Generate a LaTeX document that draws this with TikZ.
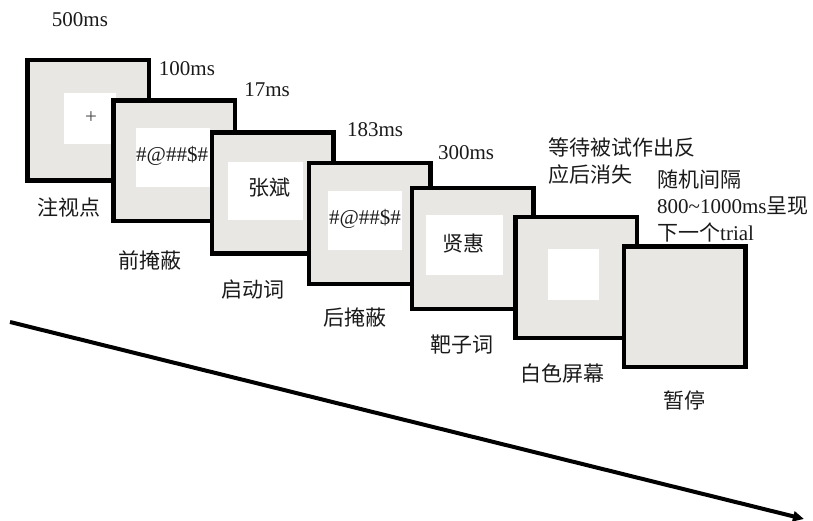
\documentclass[tikz,border=0pt]{standalone}
\usepackage{fontspec}
\setmainfont{Liberation Serif}
\newfontfamily\cjk{Noto Sans CJK SC}
\usetikzlibrary{arrows.meta,shadows}
\definecolor{scr}{HTML}{E8E7E4}
\definecolor{ink}{HTML}{1A1A1A}
\tikzset{
 screen/.style={draw=black, line width=4.5pt, fill=scr, minimum width=121.5pt, minimum height=120.5pt, inner sep=0pt,
   drop shadow={shadow xshift=1.5pt,shadow yshift=-1.5pt,opacity=0.35}},
 win/.style={fill=white, inner sep=0pt},
 lbl/.style={font=\fontsize{21pt}{25pt}\selectfont, text=ink, inner sep=0pt},
 cn/.style={font=\fontsize{21pt}{25pt}\selectfont\cjk, text=ink, inner sep=0pt},
}
\begin{document}
\begin{tikzpicture}[x=1pt,y=-1pt]
\useasboundingbox (0,0) rectangle (813,521);
% screen 1
\node[screen] (s1) at (88,120.5) {};
\node[win, minimum width=52pt, minimum height=51pt] (w1) at (90,118.5) {};
\node[lbl, text=ink!80] (plus) at (91,118) {+};
% screen 2
\node[screen] (s2) at (174,161) {};
\node[win, minimum width=74pt, minimum height=59pt] (w2) at (173,157.5) {};
\node[lbl, anchor=west] (t2) at (136,156) {\#@\#\#\$\#};
% screen 3
\node[screen] (s3) at (272.5,193) {};
\node[win, minimum width=75pt, minimum height=58pt] (w3) at (265.5,191) {};
\node[cn] (t3) at (269,188) {张斌};
% screen 4
\node[screen] (s4) at (369.5,223.5) {};
\node[win, minimum width=74pt, minimum height=59pt] (w4) at (365,220.5) {};
\node[lbl] (t4) at (365,219) {\#@\#\#\$\#};
% screen 5
\node[screen] (s5) at (472.5,248.5) {};
\node[win, minimum width=77pt, minimum height=60pt] (w5) at (464.5,245) {};
\node[cn] (t5) at (463,243) {贤惠};
% screen 6
\node[screen] (s6) at (576,277.5) {};
\node[win, minimum width=51pt, minimum height=51pt] (w6) at (573.5,274.5) {};
% screen 7
\node[screen] (s7) at (684.5,306.5) {};
% durations
\node[lbl] (d1) at (80,20) {500ms};
\node[lbl] (d2) at (187,69) {100ms};
\node[lbl] (d3) at (267,90) {17ms};
\node[lbl] (d4) at (375,130) {183ms};
\node[lbl] (d5) at (466,153) {300ms};
\node[cn, anchor=west] (r1) at (548,148) {等待被试作出反};
\node[cn, anchor=west] (r2) at (548,175) {应后消失};
\node[cn, anchor=west] (q1) at (657,180) {随机间隔};
\node[lbl, anchor=west] (q2) at (657,206) {800\textasciitilde 1000ms{\cjk 呈现}};
\node[lbl, anchor=west] (q3) at (657,232) {{\cjk 下一个}trial};
% labels
\node[cn] (l1) at (69,207) {注视点};
\node[cn] (l2) at (150,260) {前掩蔽};
\node[cn] (l3) at (253,290) {启动词};
\node[cn] (l4) at (355,318) {后掩蔽};
\node[cn] (l5) at (462,345) {靶子词};
\node[cn] (l6) at (562,373) {白色屏幕};
\node[cn] (l7) at (684,400) {暂停};
% time arrow
\coordinate (ta) at (10,322);
\coordinate (tb) at (804,519);
\draw[line width=4pt, -{Triangle[length=11pt,width=10pt]}] (ta) -- (tb);
\end{tikzpicture}
\end{document}
